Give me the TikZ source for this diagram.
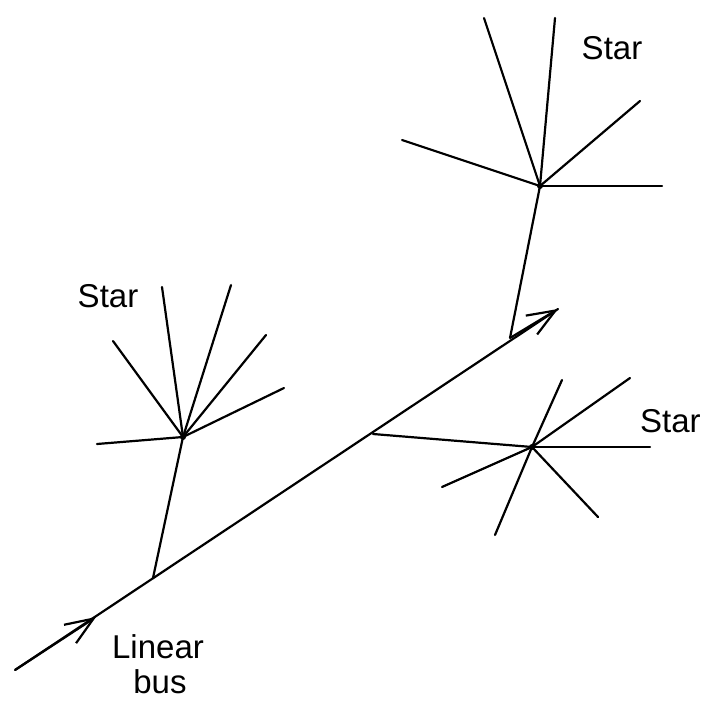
\documentclass[tikz,border=0pt]{standalone}
\usepackage{fontspec}
\setmainfont{Liberation Sans}
\usetikzlibrary{arrows.meta}
\tikzset{
  wire/.style={line width=2.2pt, line cap=round},
  lbl/.style={font=\fontsize{33}{36}\selectfont, inner sep=0pt},
  barb/.style={line width=2.2pt, -{Straight Barb[length=28pt,width=22pt,line width=2.2pt]}}
}
\begin{document}
\begin{tikzpicture}[x=1pt,y=-1pt]
\useasboundingbox (0,0) rectangle (712,701);
% bus
\coordinate (b0) at (15,670);
\coordinate (bm) at (96,617);
\coordinate (j1) at (153,578);
\coordinate (j2) at (373,434);
\coordinate (j3) at (510,338);
\coordinate (bend) at (558,309);
\draw[wire] (b0) -- (bend);
\draw[barb] (b0) -- (bm);
\draw[barb] (j3) -- (bend);
% left star
\coordinate (c1) at (183,437);
\coordinate (l1) at (97,444);
\coordinate (l2) at (113,341);
\coordinate (l3) at (162,287);
\coordinate (l4) at (231,285);
\coordinate (l5) at (266,335);
\coordinate (l6) at (284,388);
\draw[wire] (j1) -- (c1);
\foreach \e in {l1,l2,l3,l4,l5,l6} \draw[wire] (c1) -- (\e);
% top star
\coordinate (c2) at (540,186);
\coordinate (t1) at (402,140);
\coordinate (t2) at (484,18);
\coordinate (t3) at (555,18);
\coordinate (t4) at (640,101);
\coordinate (t5) at (662,186);
\draw[wire] (j3) -- (c2);
\foreach \e in {t1,t2,t3,t4,t5} \draw[wire] (c2) -- (\e);
% right star
\coordinate (c3) at (532,447);
\coordinate (r1) at (562,380);
\coordinate (r2) at (630,378);
\coordinate (r3) at (650,447);
\coordinate (r4) at (598,517);
\coordinate (r5) at (495,535);
\coordinate (r6) at (442,487);
\draw[wire] (j2) -- (c3);
\foreach \e in {r1,r2,r3,r4,r5,r6} \draw[wire] (c3) -- (\e);
\foreach \c in {c1,c2,c3} \fill (\c) circle (3pt);
% labels
\node[lbl] (s1) at (108,296) {Star};
\node[lbl] (s2) at (612,48) {Star};
\node[lbl, anchor=west] (s3) at (640,421) {Star};
\node[lbl] (lb1) at (158,647) {Linear};
\node[lbl] (lb2) at (160,682) {bus};
\end{tikzpicture}
\end{document}
